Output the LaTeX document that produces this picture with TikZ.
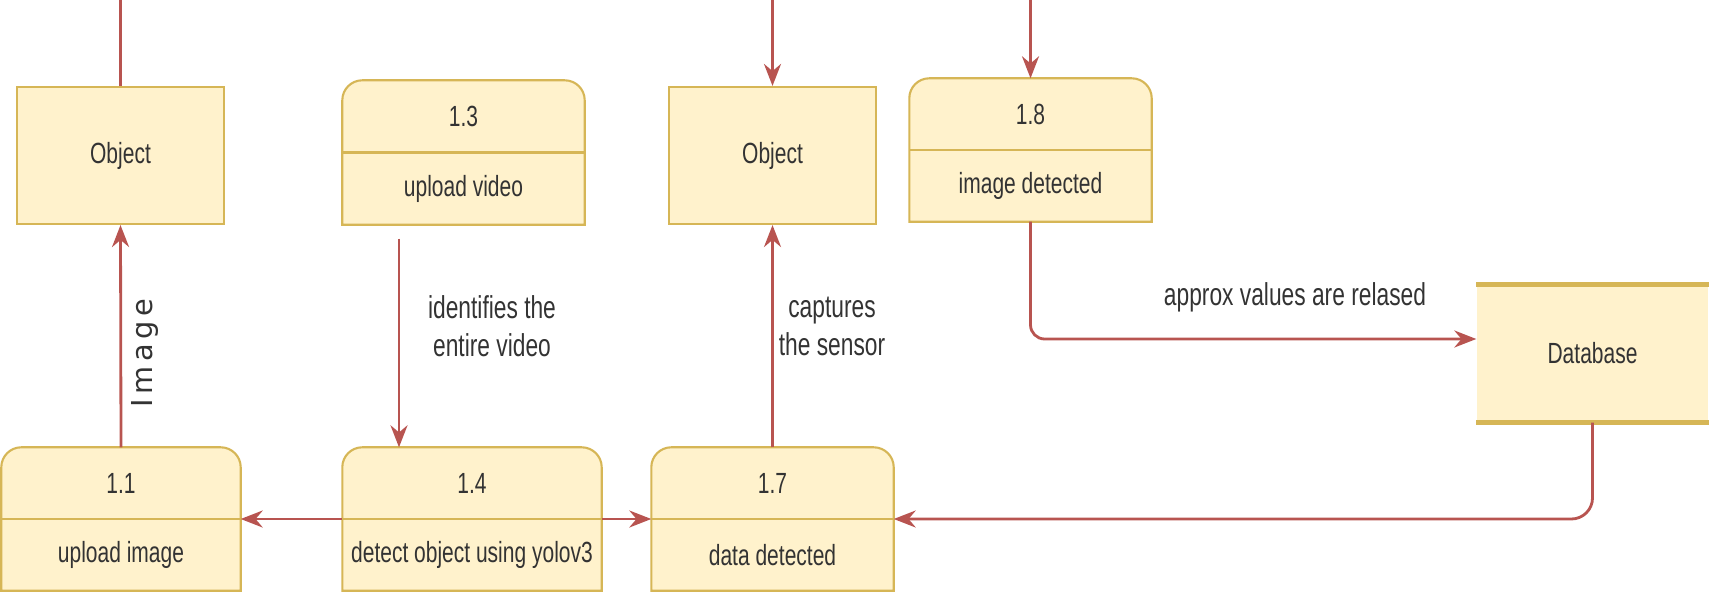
\documentclass[tikz,border=0pt]{standalone}
\usepackage{fontspec}
\setmainfont{Liberation Sans}[FakeStretch=0.72]
\newfontfamily\imgfont{DejaVu Sans}
\usetikzlibrary{arrows.meta,calc}
\definecolor{boxfill}{HTML}{FFF2CC}
\definecolor{boxline}{HTML}{D6B656}
\definecolor{flowred}{HTML}{B85450}
\definecolor{inkgray}{HTML}{333333}
\begin{document}
\begin{tikzpicture}[
  >={Stealth[length=0.22cm, width=0.17cm]},
  proc/.style={minimum width=2.41cm, minimum height=1.42cm, inner sep=0pt},
  procbox/.style={draw=boxline, fill=boxfill, line width=0.6pt},
  entity/.style={draw=boxline, fill=boxfill, line width=0.6pt,
                 minimum width=2.07cm, minimum height=1.37cm, inner sep=0pt,
                 font=\fontsize{8.3}{10}\selectfont, text=inkgray},
  txt/.style={font=\fontsize{8.3}{10}\selectfont, text=inkgray, inner sep=1pt},
  lbl/.style={font=\fontsize{9}{10.8}\selectfont, text=inkgray, align=center},
  flow/.style={->, flowred, line width=0.8pt}
]
\useasboundingbox (0,0) rectangle (17.13,-6.01);

%% External entities
\node[entity] (obj1) at (1.205,-1.555) {Object};
\node[entity] (obj2) at (7.725,-1.555) {Object};

%% Data store
\node[minimum width=2.31cm, minimum height=1.37cm, inner sep=0pt, fill=boxfill,
      font=\fontsize{8.3}{10}\selectfont, text=inkgray] (db) at (15.925,-3.535) {Database};
\draw[boxline, line width=1.3pt] (db.north west) -- (db.north east);
\draw[boxline, line width=1.3pt] (db.south west) -- (db.south east);

%% Processes
\node[proc, minimum width=2.38cm] (p11) at (1.21,-5.19) {};
\node[proc, minimum height=1.43cm] (p13) at (4.635,-1.525) {};
\node[proc, minimum width=2.58cm] (p14) at (4.72,-5.19) {};
\node[proc] (p17) at (7.725,-5.19) {};
\node[proc] (p18) at (10.305,-1.50) {};

\foreach \p/\num/\txt in {p11/1.1/upload image, p13/1.3/upload video,
    p14/1.4/detect object using yolov3, p17/1.7/data detected, p18/1.8/image detected}{
  \filldraw[procbox] (\p.south west) -- ([yshift=-0.2cm]\p.north west)
    arc[start angle=180, end angle=90, radius=0.2cm] -- ([xshift=-0.2cm]\p.north east)
    arc[start angle=90, end angle=0, radius=0.2cm] -- (\p.south east) -- cycle;
  \draw[procbox] (\p.west) -- (\p.east);
  \node[txt] (\p-num) at ($(\p.north)!0.5!(\p.center)$) {\num};
  \node[txt] (\p-txt) at ($(\p.south)!0.5!(\p.center)$) {\txt};
}

%% Flows coming in from above
\coordinate (top1) at (1.205,0);
\coordinate (top2) at (7.725,0);
\coordinate (top3) at (10.305,0);
\draw[flowred, line width=0.8pt] (top1) -- (obj1.north);
\draw[flow] (top2) -- (obj2.north);
\draw[flow] (top3) -- (p18.north);

%% Flows between the processes
\draw[flow] (p11.north) -- (obj1.south);
\node[rotate=90, font=\imgfont\fontsize{8.2}{10}\selectfont, text=inkgray] (imglbl) at (1.45,-3.53) {I\,m\,a\,g\,e};
\draw[flow] ([xshift=-0.645cm, yshift=-0.14cm]p13.south) -- ([xshift=-0.645cm]p13.south |- p14.north);
\node[lbl] (idlbl) at (4.92,-3.26) {identifies the\\entire video};
\draw[flow] (p14.west) -- (p11.east);
\draw[flow] (p14.east) -- (p17.west);
\draw[flow] (p17.north) -- (obj2.south);
\node[lbl] (caplbl) at (8.32,-3.26) {captures\\the sensor};

%% Flows to and from the database
\draw[flow, rounded corners=4pt] (p18.south) |- ([yshift=0.145cm]db.west);
\node[lbl] (apxlbl) at (12.95,-2.97) {approx values are relased};
\draw[flow, rounded corners=6pt] (db.south) |- (p17.east);

\end{tikzpicture}
\end{document}
